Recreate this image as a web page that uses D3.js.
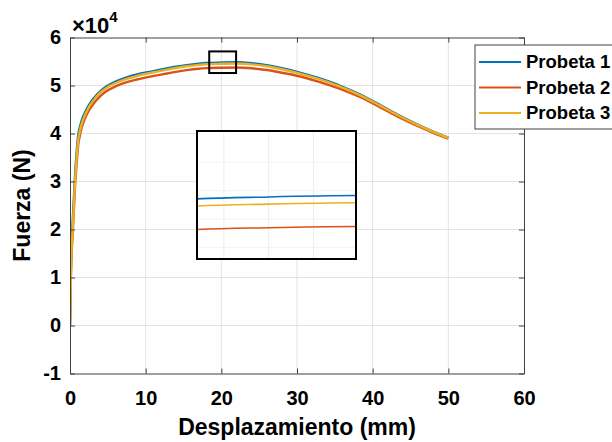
<!DOCTYPE html>
<html><head><meta charset="utf-8">
<script src="https://cdn.jsdelivr.net/npm/d3@7"></script>
<style>
body{margin:0;background:#fff}
text{font-family:Arial,"Liberation Sans",sans-serif;font-weight:bold;fill:#000}
</style>
</head><body><svg id="c" width="612" height="442"></svg>
<script>
// ---- data (fuerza in units of 10^4 N) ----
const seriesNames = ["Probeta 1", "Probeta 2", "Probeta 3"];
const seriesColors = ["#0072BD", "#D95319", "#EDB120"];
const desplazamiento = [0, 0.13, 0.35, 0.53, 0.66, 0.88, 1.1, 1.32, 1.54, 2.0, 2.5, 3.1, 4.0, 4.9, 6.0, 7.5, 9.0, 10.1, 11.5, 12.8, 14.0, 15.4, 17.0, 18.0, 20.0, 22.0, 24.0, 26.0, 28.0, 30.0, 32.6, 35.7, 38.3, 41.0, 43.6, 46.3, 48.0, 50.0];
const fuerza1 = [0, 1.30, 2.15, 2.70, 3.12, 3.62, 3.98, 4.14, 4.27, 4.44, 4.59, 4.73, 4.88, 4.99, 5.08, 5.17, 5.235, 5.272, 5.315, 5.355, 5.39, 5.425, 5.455, 5.468, 5.478, 5.483, 5.465, 5.423, 5.360, 5.285, 5.167, 4.995, 4.815, 4.593, 4.37, 4.16, 4.04, 3.915];
const fuerza2 = [0, 1.10, 1.90, 2.45, 2.88, 3.38, 3.78, 3.97, 4.12, 4.32, 4.48, 4.62, 4.78, 4.89, 4.98, 5.07, 5.13, 5.17, 5.21, 5.25, 5.285, 5.32, 5.35, 5.361, 5.37, 5.374, 5.36, 5.322, 5.266, 5.204, 5.093, 4.93, 4.76, 4.545, 4.33, 4.13, 4.015, 3.895];
const fuerza3 = [0, 1.15, 1.99, 2.55, 3.00, 3.50, 3.88, 4.06, 4.20, 4.39, 4.55, 4.69, 4.85, 4.96, 5.05, 5.14, 5.205, 5.245, 5.29, 5.33, 5.365, 5.40, 5.43, 5.443, 5.453, 5.458, 5.44, 5.40, 5.338, 5.264, 5.148, 4.978, 4.80, 4.58, 4.36, 4.152, 4.033, 3.91];
const xTicks = [0, 10, 20, 30, 40, 50, 60];
const yTicks = [-1, 0, 1, 2, 3, 4, 5, 6];
const insetXDomain = [18.4, 21.95];
const insetYDomain = [5.26, 5.71];
const insetXGrid = [19, 20, 21];
const insetYGrid = [5.3, 5.4, 5.5, 5.6];
const xLabel = "Desplazamiento (mm)";
const yLabel = "Fuerza (N)";

const fuerzas = [fuerza1, fuerza2, fuerza3];
const series = seriesNames.map((n, i) => ({
  name: n, color: seriesColors[i],
  pts: desplazamiento.map((d, j) => [d, fuerzas[i][j]])
}));

const svg = d3.select("#c");
const L = 70, R = 524, T = 37.5, B = 373.5;
const x = d3.scaleLinear().domain([0, 60]).range([L, R]);
const y = d3.scaleLinear().domain([-1, 6]).range([B, T]);
const axisCol = "#404040", gridCol = "#e3e3e3";

svg.append("rect").attr("width", 612).attr("height", 442).attr("fill", "#fff");

// grid
const grid = svg.append("g");
grid.selectAll(".gx").data(xTicks.slice(1, -1)).join("line")
  .attr("x1", d => x(d)).attr("x2", d => x(d)).attr("y1", T).attr("y2", B)
  .attr("stroke", gridCol).attr("stroke-width", 1);
grid.selectAll(".gy").data(yTicks.slice(1, -1)).join("line")
  .attr("y1", d => y(d)).attr("y2", d => y(d)).attr("x1", L).attr("x2", R)
  .attr("stroke", gridCol).attr("stroke-width", 1);

// clip
svg.append("clipPath").attr("id", "pc").append("rect")
  .attr("x", L).attr("y", T).attr("width", R - L).attr("height", B - T);

const line = d3.line().x(d => x(d[0])).y(d => y(d[1])).curve(d3.curveMonotoneX);
svg.append("g").attr("clip-path", "url(#pc)").selectAll("path").data(series).join("path")
  .attr("d", d => line(d.pts)).attr("fill", "none")
  .attr("stroke", d => d.color).attr("stroke-width", 2.4);

// axes
const fmt = d => String(d);
function styleAxis(g) {
  g.select(".domain").attr("stroke", axisCol);
  g.selectAll(".tick line").attr("stroke", axisCol);
  g.selectAll("text").attr("font-size", 20).attr("fill", "#000")
    .attr("font-family", "Arial, 'Liberation Sans', sans-serif").attr("font-weight", "bold");
}
svg.append("g").attr("transform", `translate(0,${B})`)
  .call(d3.axisBottom(x).tickValues(xTicks).tickFormat(fmt).tickSizeInner(-5).tickSizeOuter(0).tickPadding(17))
  .call(styleAxis);
svg.append("g").attr("transform", `translate(0,${T})`)
  .call(d3.axisTop(x).tickValues(xTicks).tickSizeInner(-5).tickSizeOuter(0).tickFormat(""))
  .call(styleAxis);
svg.append("g").attr("transform", `translate(${L},0)`)
  .call(d3.axisLeft(y).tickValues(yTicks).tickFormat(fmt).tickSizeInner(-5).tickSizeOuter(0).tickPadding(9))
  .call(styleAxis);
svg.append("g").attr("transform", `translate(${R},0)`)
  .call(d3.axisRight(y).tickValues(yTicks).tickSizeInner(-5).tickSizeOuter(0).tickFormat(""))
  .call(styleAxis);

// exponent label
const ex = svg.append("text").attr("x", 72).attr("y", 33).attr("font-size", 22);
ex.append("tspan").text("\u00d710");
ex.append("tspan").attr("dy", -11).attr("font-size", 15).text("4");

// axis labels
svg.append("text").attr("x", (L + R) / 2).attr("y", 435).attr("text-anchor", "middle")
  .attr("font-size", 23).text(xLabel);
svg.append("text").attr("transform", `translate(30,${(T + B) / 2}) rotate(-90)`)
  .attr("text-anchor", "middle").attr("font-size", 23).text(yLabel);

// zoom rectangle on main plot
svg.append("rect")
  .attr("x", x(insetXDomain[0])).attr("y", y(insetYDomain[1]))
  .attr("width", x(insetXDomain[1]) - x(insetXDomain[0]))
  .attr("height", y(insetYDomain[0]) - y(insetYDomain[1]))
  .attr("fill", "none").attr("stroke", "#000").attr("stroke-width", 2);

// inset
const IL = 197, IR = 356, IT = 131, IB = 259;
const xi = d3.scaleLinear().domain(insetXDomain).range([IL, IR]);
const yi = d3.scaleLinear().domain(insetYDomain).range([IB, IT]);
const ig = svg.append("g");
ig.append("rect").attr("x", IL).attr("y", IT).attr("width", IR - IL).attr("height", IB - IT).attr("fill", "#fff");
ig.selectAll(".igx").data(insetXGrid).join("line")
  .attr("x1", d => xi(d)).attr("x2", d => xi(d)).attr("y1", IT).attr("y2", IB)
  .attr("stroke", "#eeeeee").attr("stroke-width", 1);
ig.selectAll(".igy").data(insetYGrid).join("line")
  .attr("y1", d => yi(d)).attr("y2", d => yi(d)).attr("x1", IL).attr("x2", IR)
  .attr("stroke", "#f2f2f2").attr("stroke-width", 1);
svg.append("clipPath").attr("id", "ic").append("rect")
  .attr("x", IL).attr("y", IT).attr("width", IR - IL).attr("height", IB - IT);
const iline = d3.line().x(d => xi(d[0])).y(d => yi(d[1])).curve(d3.curveMonotoneX);
ig.append("g").attr("clip-path", "url(#ic)").selectAll("path").data(series).join("path")
  .attr("d", d => iline(d.pts)).attr("fill", "none")
  .attr("stroke", d => d.color).attr("stroke-width", 1.6);
ig.append("rect").attr("x", IL).attr("y", IT).attr("width", IR - IL).attr("height", IB - IT)
  .attr("fill", "none").attr("stroke", "#000").attr("stroke-width", 2);

// legend
const lg = svg.append("g");
lg.append("rect").attr("x", 475).attr("y", 45).attr("width", 200).attr("height", 84)
  .attr("fill", "#fff").attr("stroke", axisCol).attr("stroke-width", 1);
series.forEach((s, i) => {
  const yy = 62 + i * 25.5;
  lg.append("line").attr("x1", 479).attr("x2", 521).attr("y1", yy).attr("y2", yy)
    .attr("stroke", s.color).attr("stroke-width", 2.2);
  lg.append("text").attr("x", 526).attr("y", yy).attr("dy", "0.35em")
    .attr("font-size", 18.5).text(s.name);
});
</script></body></html>
